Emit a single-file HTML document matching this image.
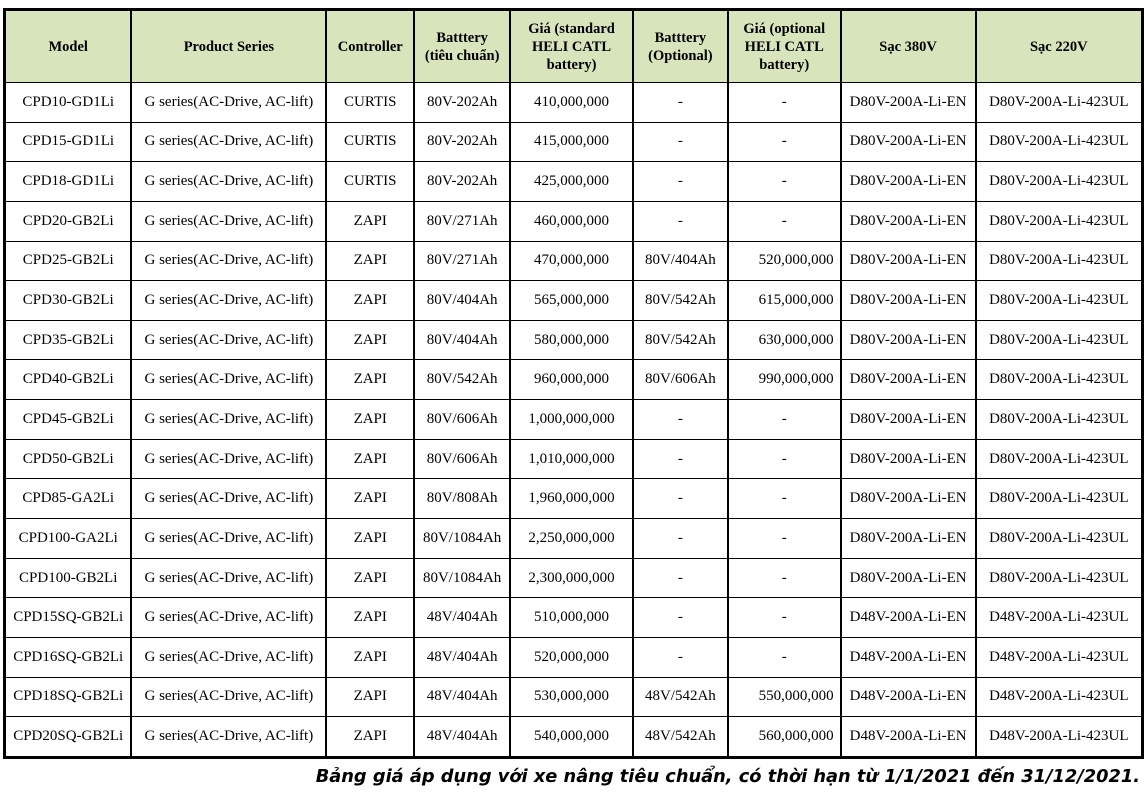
<!DOCTYPE html>
<html><head><meta charset="utf-8"><style>
body{margin:0;background:#fff;width:1144px;height:799px;overflow:hidden;position:relative}
table{position:absolute;left:3px;top:8px;border-collapse:collapse;font-family:"Liberation Serif",serif;font-size:15px;color:#000;table-layout:fixed;border:3px solid #000}
td,th{border-left:2px solid #000;border-right:2px solid #000;border-top:1.5px solid #000;border-bottom:1.5px solid #000;text-align:center;padding:0;white-space:nowrap}
th{background:#d8e4bc;height:71px;font-size:14.5px;line-height:18px}
td{height:38.65px}
td.r{text-align:right;padding-right:6px}
.f{position:absolute;right:4px;top:766px;font-family:"DejaVu Sans","Liberation Sans",sans-serif;font-weight:bold;font-style:italic;font-size:17.8px;color:#000;white-space:nowrap}
</style></head><body>
<table>
<colgroup><col style="width:127px"><col style="width:195px"><col style="width:88px"><col style="width:96px"><col style="width:123px"><col style="width:95px"><col style="width:113px"><col style="width:135px"><col style="width:167px"></colgroup>
<tr><th>Model</th><th>Product Series</th><th>Controller</th><th>Batttery<br>(tiêu chuẩn)</th><th>Giá (standard<br>HELI CATL<br>battery)</th><th>Batttery<br>(Optional)</th><th>Giá (optional<br>HELI CATL<br>battery)</th><th>Sạc 380V</th><th>Sạc 220V</th></tr>
<tr><td>CPD10-GD1Li</td><td>G series(AC-Drive, AC-lift)</td><td>CURTIS</td><td>80V-202Ah</td><td>410,000,000</td><td>-</td><td>-</td><td>D80V-200A-Li-EN</td><td>D80V-200A-Li-423UL</td></tr>
<tr><td>CPD15-GD1Li</td><td>G series(AC-Drive, AC-lift)</td><td>CURTIS</td><td>80V-202Ah</td><td>415,000,000</td><td>-</td><td>-</td><td>D80V-200A-Li-EN</td><td>D80V-200A-Li-423UL</td></tr>
<tr><td>CPD18-GD1Li</td><td>G series(AC-Drive, AC-lift)</td><td>CURTIS</td><td>80V-202Ah</td><td>425,000,000</td><td>-</td><td>-</td><td>D80V-200A-Li-EN</td><td>D80V-200A-Li-423UL</td></tr>
<tr><td>CPD20-GB2Li</td><td>G series(AC-Drive, AC-lift)</td><td>ZAPI</td><td>80V/271Ah</td><td>460,000,000</td><td>-</td><td>-</td><td>D80V-200A-Li-EN</td><td>D80V-200A-Li-423UL</td></tr>
<tr><td>CPD25-GB2Li</td><td>G series(AC-Drive, AC-lift)</td><td>ZAPI</td><td>80V/271Ah</td><td>470,000,000</td><td>80V/404Ah</td><td class="r">520,000,000</td><td>D80V-200A-Li-EN</td><td>D80V-200A-Li-423UL</td></tr>
<tr><td>CPD30-GB2Li</td><td>G series(AC-Drive, AC-lift)</td><td>ZAPI</td><td>80V/404Ah</td><td>565,000,000</td><td>80V/542Ah</td><td class="r">615,000,000</td><td>D80V-200A-Li-EN</td><td>D80V-200A-Li-423UL</td></tr>
<tr><td>CPD35-GB2Li</td><td>G series(AC-Drive, AC-lift)</td><td>ZAPI</td><td>80V/404Ah</td><td>580,000,000</td><td>80V/542Ah</td><td class="r">630,000,000</td><td>D80V-200A-Li-EN</td><td>D80V-200A-Li-423UL</td></tr>
<tr><td>CPD40-GB2Li</td><td>G series(AC-Drive, AC-lift)</td><td>ZAPI</td><td>80V/542Ah</td><td>960,000,000</td><td>80V/606Ah</td><td class="r">990,000,000</td><td>D80V-200A-Li-EN</td><td>D80V-200A-Li-423UL</td></tr>
<tr><td>CPD45-GB2Li</td><td>G series(AC-Drive, AC-lift)</td><td>ZAPI</td><td>80V/606Ah</td><td>1,000,000,000</td><td>-</td><td>-</td><td>D80V-200A-Li-EN</td><td>D80V-200A-Li-423UL</td></tr>
<tr><td>CPD50-GB2Li</td><td>G series(AC-Drive, AC-lift)</td><td>ZAPI</td><td>80V/606Ah</td><td>1,010,000,000</td><td>-</td><td>-</td><td>D80V-200A-Li-EN</td><td>D80V-200A-Li-423UL</td></tr>
<tr><td>CPD85-GA2Li</td><td>G series(AC-Drive, AC-lift)</td><td>ZAPI</td><td>80V/808Ah</td><td>1,960,000,000</td><td>-</td><td>-</td><td>D80V-200A-Li-EN</td><td>D80V-200A-Li-423UL</td></tr>
<tr><td>CPD100-GA2Li</td><td>G series(AC-Drive, AC-lift)</td><td>ZAPI</td><td>80V/1084Ah</td><td>2,250,000,000</td><td>-</td><td>-</td><td>D80V-200A-Li-EN</td><td>D80V-200A-Li-423UL</td></tr>
<tr><td>CPD100-GB2Li</td><td>G series(AC-Drive, AC-lift)</td><td>ZAPI</td><td>80V/1084Ah</td><td>2,300,000,000</td><td>-</td><td>-</td><td>D80V-200A-Li-EN</td><td>D80V-200A-Li-423UL</td></tr>
<tr><td>CPD15SQ-GB2Li</td><td>G series(AC-Drive, AC-lift)</td><td>ZAPI</td><td>48V/404Ah</td><td>510,000,000</td><td>-</td><td>-</td><td>D48V-200A-Li-EN</td><td>D48V-200A-Li-423UL</td></tr>
<tr><td>CPD16SQ-GB2Li</td><td>G series(AC-Drive, AC-lift)</td><td>ZAPI</td><td>48V/404Ah</td><td>520,000,000</td><td>-</td><td>-</td><td>D48V-200A-Li-EN</td><td>D48V-200A-Li-423UL</td></tr>
<tr><td>CPD18SQ-GB2Li</td><td>G series(AC-Drive, AC-lift)</td><td>ZAPI</td><td>48V/404Ah</td><td>530,000,000</td><td>48V/542Ah</td><td class="r">550,000,000</td><td>D48V-200A-Li-EN</td><td>D48V-200A-Li-423UL</td></tr>
<tr><td>CPD20SQ-GB2Li</td><td>G series(AC-Drive, AC-lift)</td><td>ZAPI</td><td>48V/404Ah</td><td>540,000,000</td><td>48V/542Ah</td><td class="r">560,000,000</td><td>D48V-200A-Li-EN</td><td>D48V-200A-Li-423UL</td></tr>
</table>
<div class="f">Bảng giá áp dụng với xe nâng tiêu chuẩn, có thời hạn từ 1/1/2021 đến 31/12/2021.</div>
</body></html>
